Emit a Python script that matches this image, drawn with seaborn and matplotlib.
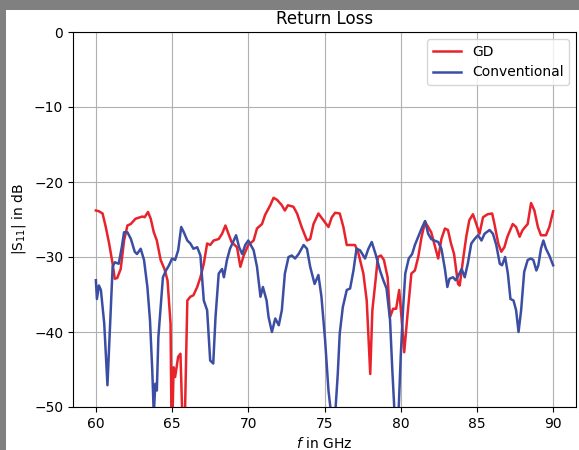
import numpy as np
import pandas as pd
import matplotlib
matplotlib.use("Agg")
import matplotlib.pyplot as plt
from matplotlib.patches import Rectangle
import seaborn as sns

# (GHz, dB)
gd_f = [60.0, 60.2, 60.44, 60.65, 60.87, 61.1, 61.24, 61.4, 61.63, 61.85, 62.07, 62.29, 62.6, 63.05,
        63.2, 63.42, 63.6, 63.8, 64.0, 64.25, 64.5, 64.7, 64.9, 64.98, 65.1, 65.2, 65.4, 65.55, 65.66,
        65.72, 65.85, 66.0, 66.2, 66.4, 66.65, 66.86, 67.08, 67.3, 67.5, 67.73, 68.06, 68.28, 68.5,
        68.7, 68.9, 69.26, 69.48, 69.7, 70.0, 70.35, 70.57, 70.9, 71.1, 71.44, 71.66, 71.9, 72.2,
        72.4, 72.6, 72.96, 73.2, 73.5, 73.85, 74.06, 74.28, 74.6, 74.93, 75.26, 75.48, 75.7, 76.0,
        76.24, 76.46, 76.8, 77.0, 77.2, 77.55, 77.77, 78.0, 78.14, 78.35, 78.5, 78.7, 78.9, 79.14,
        79.3, 79.5, 79.7, 79.9, 80.05, 80.23, 80.45, 80.7, 80.93, 81.15, 81.37, 81.6, 81.8, 82.0,
        82.2, 82.46, 82.67, 82.9, 83.1, 83.3, 83.5, 83.76, 83.87, 84.1, 84.3, 84.5, 84.74, 84.96,
        85.17, 85.4, 85.7, 86.0, 86.15, 86.4, 86.6, 86.8, 87.0, 87.35, 87.57, 87.8, 88.0, 88.33,
        88.55, 88.77, 89.0, 89.2, 89.53, 89.75, 90.0]
gd_db = [-23.8, -23.9, -24.2, -26.0, -28.2, -30.9, -32.9, -32.8, -31.6, -27.8, -25.8, -25.6, -24.9, -24.6,
         -24.7, -24.0, -24.9, -26.7, -27.8, -30.4, -31.6, -33.1, -38.9, -56.0, -44.7, -46.0, -43.3, -42.9, -50.5,
         -58.0, -50.5, -35.8, -35.3, -35.1, -34.0, -32.7, -30.9, -28.2, -28.4, -27.8, -27.6, -26.9, -25.8,
         -26.9, -28.0, -28.7, -31.3, -29.8, -28.4, -27.8, -26.2, -25.6, -24.4, -23.1, -22.1, -22.4, -23.1,
         -23.8, -23.1, -23.3, -24.2, -26.0, -27.8, -27.6, -25.6, -24.2, -25.1, -26.0, -24.7, -24.1, -24.2,
         -26.0, -28.4, -28.4, -28.4, -29.3, -32.2, -35.8, -45.6, -37.1, -33.1, -30.0, -29.8, -30.4, -32.7,
         -38.0, -36.9, -36.9, -34.4, -38.0, -42.7, -37.6, -32.2, -31.8, -30.0, -27.3, -25.3, -26.0, -26.7,
         -28.2, -30.2, -27.6, -26.2, -26.4, -28.2, -29.6, -33.6, -33.8, -30.2, -27.3, -25.1, -24.3, -25.6,
         -26.9, -24.7, -24.3, -24.2, -25.6, -28.2, -29.3, -28.7, -27.3, -25.6, -26.0, -27.3, -26.4, -25.6,
         -22.8, -23.8, -26.0, -27.1, -27.1, -26.0, -23.9]

conv_f = [60.0, 60.07, 60.2, 60.33, 60.55, 60.76, 60.94, 61.1, 61.24, 61.5, 61.7, 61.85, 62.07, 62.3,
          62.55, 62.7, 62.94, 63.16, 63.38, 63.55, 63.7, 63.8, 63.9, 64.0, 64.1, 64.25, 64.4, 64.6, 64.8,
          65.0, 65.2, 65.4, 65.6, 65.77, 66.0, 66.2, 66.4, 66.65, 66.86, 67.08, 67.3, 67.5, 67.7, 67.85,
          68.06, 68.28, 68.4, 68.6, 68.8, 69.04, 69.2, 69.4, 69.6, 69.8, 70.0, 70.35, 70.57, 70.8, 70.96,
          71.2, 71.33, 71.55, 71.77, 72.0, 72.2, 72.4, 72.64, 72.85, 73.07, 73.3, 73.63, 73.85, 74.06,
          74.35, 74.6, 74.8, 75.04, 75.26, 75.44, 75.57, 75.7, 75.87, 76.0, 76.2, 76.46, 76.68, 76.9,
          77.1, 77.33, 77.66, 77.88, 78.1, 78.35, 78.64, 78.86, 79.07, 79.3, 79.45, 79.6, 79.72, 79.85,
          80.0, 80.16, 80.3, 80.53, 80.75, 80.93, 81.15, 81.37, 81.6, 81.8, 82.0, 82.2, 82.46, 82.67,
          82.9, 83.06, 83.2, 83.43, 83.6, 83.8, 84.0, 84.2, 84.4, 84.63, 84.85, 85.07, 85.3, 85.5,
          85.83, 86.05, 86.27, 86.5, 86.65, 86.85, 87.03, 87.2, 87.4, 87.57, 87.73, 87.9, 88.1, 88.33,
          88.55, 88.7, 88.9, 89.03, 89.2, 89.36, 89.53, 89.75, 90.0]
conv_db = [-33.1, -35.6, -33.8, -34.4, -38.9, -47.1, -38.9, -31.3, -30.7, -30.9, -28.7, -26.7, -26.7, -27.6,
           -29.3, -29.6, -28.9, -30.4, -34.0, -38.4, -45.1, -51.0, -46.9, -47.8, -40.7, -36.7, -32.7, -31.8, -31.1,
           -30.2, -30.4, -29.1, -26.0, -26.7, -27.8, -28.2, -28.9, -28.7, -29.8, -35.8, -37.1, -43.8, -44.2, -38.0,
           -32.2, -31.6, -32.7, -30.4, -28.9, -27.8, -27.1, -28.7, -29.6, -28.4, -27.8, -29.1, -31.3, -35.3, -34.0,
           -35.8, -38.0, -40.0, -38.2, -39.1, -37.1, -32.2, -30.0, -29.8, -30.2, -29.6, -28.4, -28.9, -31.3,
           -33.6, -32.4, -35.3, -41.1, -47.8, -51.0, -58.0, -51.0, -45.6, -40.2, -36.7, -34.4, -34.2, -31.8,
           -28.9, -29.1, -30.2, -28.9, -28.0, -29.6, -31.8, -33.1, -34.2, -38.4, -45.1, -51.0, -58.0, -51.0,
           -43.3, -36.7, -32.2, -30.2, -29.6, -28.4, -27.3, -26.2, -25.2, -26.9, -27.6, -27.8, -28.0, -28.9,
           -31.6, -34.0, -32.9, -32.7, -33.1, -32.4, -31.6, -32.7, -30.9, -28.2, -27.6, -27.1, -27.8, -26.9,
           -26.4, -26.9, -28.4, -30.9, -31.1, -30.0, -32.2, -35.6, -35.8, -37.1, -40.0, -37.1, -32.0, -30.4,
           -30.2, -30.4, -31.8, -31.1, -28.9, -27.8, -28.9, -29.8, -31.1]

series_names = ["GD", "Conventional"]
colors = {"GD": "#e8232b", "Conventional": "#3b4ea3"}

df = pd.concat([
    pd.DataFrame({"f": gd_f, "S11": gd_db, "curve": "GD"}),
    pd.DataFrame({"f": conv_f, "S11": conv_db, "curve": "Conventional"}),
], ignore_index=True)

fig = plt.figure(figsize=(5.79, 4.5), dpi=100, facecolor="#808080")
fig.patches.append(Rectangle((6 / 579, 0), 1, 1 - 10 / 450, transform=fig.transFigure,
                             facecolor="white", edgecolor="none", zorder=-1))
ax = fig.add_axes([73 / 579, 1 - 407 / 450, 503 / 579, 375 / 450])

sns.lineplot(data=df, x="f", y="S11", hue="curve", hue_order=series_names, palette=colors,
             estimator=None, sort=False, linewidth=1.8, ax=ax)

ax.set_xlim(58.5, 91.5)
ax.set_ylim(-50, 0)
ax.set_xticks([60, 65, 70, 75, 80, 85, 90])
ax.set_yticks([0, -10, -20, -30, -40, -50])
ax.grid(True, color="#b0b0b0", linewidth=0.8)
ax.set_axisbelow(True)
ax.set_title("Return Loss", fontsize=12)
ax.set_xlabel("$f$ in GHz")
ax.set_ylabel("|S$_{11}$| in dB")
ax.legend(loc="upper right", title=None)

fig.savefig("out.png", dpi=100, facecolor=fig.get_facecolor())
